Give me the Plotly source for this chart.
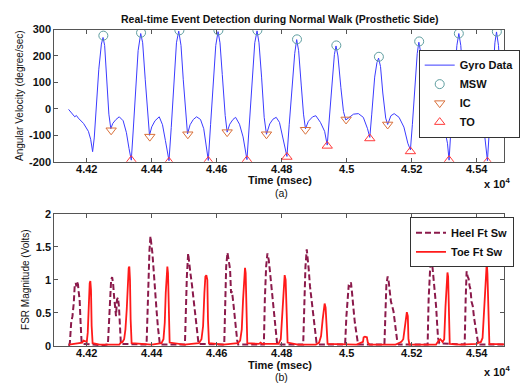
import plotly.graph_objects as go

# ---------------- data ----------------
gyro_t = [4.4144, 4.4150, 4.4157, 4.4163, 4.4168, 4.4174, 4.4190, 4.4205, 4.4212, 4.4218,
          4.4223, 4.4229, 4.4237, 4.4245, 4.4250, 4.4255, 4.4262, 4.4268, 4.4274, 4.4280,
          4.4290, 4.4300, 4.4312, 4.4322, 4.4330, 4.4337, 4.4343, 4.4350, 4.4358, 4.4366,
          4.4372, 4.4380, 4.4388, 4.4393, 4.4400, 4.4410, 4.4423, 4.4433, 4.4442, 4.4453,
          4.4460, 4.4468, 4.4476, 4.4483, 4.4490, 4.4497, 4.4505, 4.4510, 4.4518, 4.4528,
          4.4538, 4.4550, 4.4560, 4.4567, 4.4574, 4.4581, 4.4590, 4.4597, 4.4604, 4.4610,
          4.4617, 4.4626, 4.4632, 4.4640, 4.4650, 4.4658, 4.4670, 4.4681, 4.4693, 4.4700,
          4.4708, 4.4717, 4.4724, 4.4730, 4.4738, 4.4746, 4.4753, 4.4763, 4.4773, 4.4783,
          4.4793, 4.4803, 4.4816, 4.4823, 4.4832, 4.4840, 4.4846, 4.4852, 4.4860, 4.4867,
          4.4873, 4.4882, 4.4895, 4.4905, 4.4919, 4.4932, 4.4940, 4.4946, 4.4955, 4.4962,
          4.4967, 4.4973, 4.4982, 4.4990, 4.4997, 4.5007, 4.5021, 4.5036, 4.5051, 4.5064,
          4.5071, 4.5077, 4.5086, 4.5093, 4.5098, 4.5104, 4.5111, 4.5120, 4.5126, 4.5136,
          4.5146, 4.5161, 4.5176, 4.5188, 4.5196, 4.5202, 4.5210, 4.5217, 4.5222, 4.5228,
          4.5236, 4.5244, 4.5250, 4.5260, 4.5270, 4.5285, 4.5300, 4.5310, 4.5315, 4.5321,
          4.5330, 4.5339, 4.5345, 4.5351, 4.5359, 4.5366, 4.5372, 4.5380, 4.5390, 4.5400,
          4.5413, 4.5425, 4.5433, 4.5439, 4.5448, 4.5456, 4.5461, 4.5467, 4.5475, 4.5482,
          4.5487, 4.5494]
gyro_v = [-2, -12, -20, -30, -25, -35, -55, -85, -115, -162,
          -110, 20, 150, 245, 270, 240, 110, -20, -75, -55,
          -40, -30, -45, -90, -150, -194, -80, 80, 220, 285,
          250, 110, -30, -100, -68, -45, -30, -60, -120, -196,
          -70, 110, 250, 294, 240, 110, -35, -95, -60, -40,
          -30, -40, -75, -130, -195, -60, 110, 240, 292, 250,
          130, -25, -88, -58, -40, -32, -58, -106, -192, -60,
          100, 250, 295, 250, 120, -32, -96, -57, -39, -32,
          -51, -106, -180, -60, 90, 210, 262, 220, 90, -20,
          -75, -47, -30, -26, -51, -85, -137, -40, 120, 205,
          238, 200, 80, -10, -42, -32, -20, -18, -32, -75,
          -108, -20, 120, 175, 192, 160, 60, -35, -59, -26,
          -18, -32, -69, -130, -155, -60, 90, 210, 252, 210,
          80, -15, -39, -32, -26, -39, -69, -130, -194, -70,
          100, 240, 285, 240, 100, -40, -88, -57, -32, -26,
          -45, -106, -196, -70, 100, 250, 291, 240, 90, -10,
          -35, -20]

msw_t = [4.4251, 4.4367, 4.4485, 4.4605, 4.4725, 4.4847, 4.4968, 4.5099, 4.5223, 4.5345, 4.5462]
msw_v = [277, 288, 297, 297, 297, 263, 240, 197, 255, 285, 292]
ic_t = [4.4275, 4.4394, 4.4511, 4.4632, 4.4753, 4.4873, 4.4998, 4.5126, 4.5250, 4.5372, 4.5487]
ic_v = [-81, -105, -96, -88, -96, -79, -40, -59, -39, -90, -33]
to_t = [4.4337, 4.4453, 4.4574, 4.4693, 4.4816, 4.4940, 4.5071, 4.5196, 4.5315, 4.5433]
to_v = [-194, -200, -197, -194, -182, -140, -112, -161, -194, -200]

heel_t = [4.4145, 4.4148, 4.4152, 4.4156, 4.4160, 4.4163, 4.4166, 4.4168, 4.4170, 4.4173,
          4.4175, 4.4178, 4.4181, 4.4184, 4.4188, 4.4250, 4.4265, 4.4269, 4.4272, 4.4275,
          4.4278, 4.4281, 4.4284, 4.4287, 4.4290, 4.4293, 4.4296, 4.4299, 4.4302, 4.4305,
          4.4384, 4.4387, 4.4390, 4.4393, 4.4396, 4.4399, 4.4402, 4.4405, 4.4408, 4.4412,
          4.4415, 4.4419, 4.4422, 4.4425, 4.4502, 4.4505, 4.4508, 4.4512, 4.4515, 4.4519,
          4.4524, 4.4529, 4.4534, 4.4539, 4.4544, 4.4623, 4.4626, 4.4629, 4.4633, 4.4637,
          4.4641, 4.4644, 4.4647, 4.4651, 4.4655, 4.4659, 4.4663, 4.4666, 4.4745, 4.4748,
          4.4752, 4.4756, 4.4760, 4.4763, 4.4767, 4.4770, 4.4774, 4.4778, 4.4782, 4.4786,
          4.4866, 4.4869, 4.4873, 4.4877, 4.4880, 4.4883, 4.4887, 4.4891, 4.4895, 4.4899,
          4.4903, 4.4907, 4.4912, 4.4995, 4.4999, 4.5002, 4.5006, 4.5010, 4.5013, 4.5016,
          4.5019, 4.5022, 4.5025, 4.5028, 4.5032, 4.5035, 4.5116, 4.5119, 4.5122, 4.5126,
          4.5129, 4.5133, 4.5136, 4.5140, 4.5144, 4.5147, 4.5150, 4.5153, 4.5156, 4.5160,
          4.5249, 4.5252, 4.5255, 4.5258, 4.5260, 4.5263, 4.5266, 4.5269, 4.5272, 4.5275,
          4.5278, 4.5281, 4.5285, 4.5363, 4.5366, 4.5369, 4.5372, 4.5375, 4.5378, 4.5381,
          4.5384, 4.5388, 4.5392, 4.5396, 4.5399, 4.5402, 4.5405, 4.5500]
heel_v = [0.00, 0.05, 0.35, 0.45, 0.65, 0.92, 0.95, 0.90, 0.97, 0.93,
          0.82, 0.70, 0.35, 0.06, 0.03, 0.01, 0.02, 0.40, 0.85, 1.00,
          1.04, 0.95, 0.75, 0.60, 0.45, 0.70, 0.73, 0.60, 0.20, 0.03,
          0.02, 0.50, 1.20, 1.45, 1.66, 1.55, 1.40, 1.20, 0.96, 0.75,
          0.52, 0.28, 0.08, 0.02, 0.02, 0.60, 1.05, 1.40, 1.30, 1.10,
          0.91, 0.70, 0.52, 0.25, 0.03, 0.02, 0.70, 1.20, 1.41, 1.30,
          1.16, 0.80, 0.82, 0.65, 0.45, 0.28, 0.08, 0.02, 0.02, 0.70,
          1.20, 1.40, 1.30, 1.16, 0.95, 0.82, 0.55, 0.33, 0.12, 0.02,
          0.02, 0.70, 1.20, 1.46, 1.35, 1.16, 0.90, 0.72, 0.55, 0.38,
          0.20, 0.05, 0.02, 0.02, 0.45, 0.70, 0.91, 0.90, 0.96, 0.82,
          0.70, 0.50, 0.35, 0.23, 0.06, 0.02, 0.02, 0.60, 0.92, 1.05,
          0.98, 0.80, 0.67, 0.60, 0.52, 0.40, 0.28, 0.15, 0.05, 0.02,
          0.02, 0.70, 1.11, 1.30, 1.40, 1.25, 1.16, 0.90, 0.75, 0.60,
          0.35, 0.12, 0.04, 0.02, 0.70, 1.13, 1.05, 1.02, 0.91, 0.85,
          0.67, 0.60, 0.42, 0.30, 0.18, 0.06, 0.02, 0.02]

toe_t = [4.4145, 4.4186, 4.4190, 4.4195, 4.4200, 4.4203, 4.4206, 4.4209, 4.4211, 4.4213,
         4.4215, 4.4218, 4.4240, 4.4300, 4.4305, 4.4310, 4.4315, 4.4319, 4.4323, 4.4326,
         4.4329, 4.4331, 4.4333, 4.4335, 4.4338, 4.4400, 4.4420, 4.4430, 4.4436, 4.4440,
         4.4443, 4.4446, 4.4448, 4.4450, 4.4452, 4.4455, 4.4500, 4.4545, 4.4553, 4.4558,
         4.4562, 4.4565, 4.4568, 4.4571, 4.4573, 4.4576, 4.4620, 4.4665, 4.4672, 4.4677,
         4.4681, 4.4684, 4.4687, 4.4689, 4.4691, 4.4694, 4.4730, 4.4735, 4.4740, 4.4790,
         4.4797, 4.4802, 4.4806, 4.4809, 4.4812, 4.4815, 4.4818, 4.4850, 4.4905, 4.4915,
         4.4921, 4.4926, 4.4930, 4.4932, 4.4935, 4.4938, 4.4941, 4.5030, 4.5040, 4.5050,
         4.5052, 4.5056, 4.5062, 4.5065, 4.5070, 4.5150, 4.5160, 4.5168, 4.5174, 4.5178,
         4.5182, 4.5185, 4.5188, 4.5190, 4.5193, 4.5275, 4.5283, 4.5288, 4.5295, 4.5300,
         4.5304, 4.5307, 4.5310, 4.5312, 4.5314, 4.5317, 4.5350, 4.5400, 4.5407, 4.5413,
         4.5418, 4.5422, 4.5426, 4.5429, 4.5431, 4.5433, 4.5436, 4.5439, 4.5500]
toe_v = [0.02, 0.05, 0.08, 0.07, 0.06, 0.20, 0.70, 0.95, 0.98, 0.85,
         0.30, 0.04, 0.02, 0.02, 0.05, 0.06, 0.10, 0.25, 0.55, 0.95,
         1.18, 1.20, 1.00, 0.40, 0.04, 0.02, 0.03, 0.04, 0.10, 0.35,
         0.80, 1.12, 1.20, 1.10, 0.60, 0.05, 0.02, 0.04, 0.10, 0.30,
         0.80, 1.05, 1.07, 1.00, 0.40, 0.04, 0.02, 0.04, 0.08, 0.25,
         0.70, 1.05, 1.18, 1.10, 0.50, 0.04, 0.03, 0.05, 0.03, 0.03,
         0.10, 0.50, 0.95, 1.07, 1.00, 0.50, 0.05, 0.02, 0.02, 0.05,
         0.15, 0.40, 0.60, 0.64, 0.58, 0.20, 0.03, 0.02, 0.04, 0.06,
         0.13, 0.14, 0.13, 0.05, 0.02, 0.02, 0.04, 0.06, 0.10, 0.25,
         0.45, 0.51, 0.45, 0.10, 0.02, 0.02, 0.08, 0.10, 0.06, 0.10,
         0.60, 1.00, 1.11, 1.05, 0.40, 0.03, 0.02, 0.03, 0.05, 0.06,
         0.12, 0.50, 1.00, 1.22, 1.26, 1.10, 0.40, 0.03, 0.02]

x_tickvals = [4.42, 4.44, 4.46, 4.48, 4.50, 4.52, 4.54]
x_ticktext = ["4.42", "4.44", "4.46", "4.48", "4.5", "4.52", "4.54"]
gyro_yticks = [-200, -100, 0, 100, 200, 300]
gyro_yticktext = ["-200", "-100", "0", "100", "200", "300"]
fsr_yticks = [0, 0.5, 1, 1.5, 2]
fsr_yticktext = ["0", "0.5", "1", "1.5", "2"]

# ---------------- layout helpers ----------------
W, H = 520, 389
def px(x):
    return x / W
def py(y):
    return 1 - y / H

FONT = "Liberation Sans, Arial, sans-serif"
AXC = "#555555"

fig = go.Figure()

fig.add_trace(go.Scatter(x=gyro_t, y=gyro_v, mode="lines", name="Gyro Data",
                         line=dict(color="#3b3bff", width=1), xaxis="x", yaxis="y",
                         legend="legend"))
fig.add_trace(go.Scatter(x=msw_t, y=msw_v, mode="markers", name="MSW",
                         marker=dict(symbol="circle-open", size=9, color="#5f9ea0",
                                     line=dict(width=1)), xaxis="x", yaxis="y",
                         legend="legend"))
fig.add_trace(go.Scatter(x=ic_t, y=ic_v, mode="markers", name="IC",
                         marker=dict(symbol="triangle-down-open", size=9, color="#d9703a",
                                     line=dict(width=1)), xaxis="x", yaxis="y",
                         legend="legend"))
fig.add_trace(go.Scatter(x=to_t, y=to_v, mode="markers", name="TO",
                         marker=dict(symbol="triangle-up-open", size=9, color="#ff3b3b",
                                     line=dict(width=1)), xaxis="x", yaxis="y",
                         legend="legend"))

fig.add_trace(go.Scatter(x=heel_t, y=heel_v, mode="lines", name="Heel Ft Sw",
                         line=dict(color="#8b1a4b", width=2, dash="6px,3px"),
                         xaxis="x2", yaxis="y2", legend="legend2"))
fig.add_trace(go.Scatter(x=toe_t, y=toe_v, mode="lines", name="Toe Ft Sw",
                         line=dict(color="#ff1a1a", width=1.8),
                         xaxis="x2", yaxis="y2", legend="legend2"))

xrange = [4.4100, 4.5484]
common_x = dict(range=xrange, tickvals=x_tickvals, ticktext=x_ticktext,
                ticks="inside", ticklen=4, tickcolor=AXC, showline=True, linecolor=AXC,
                linewidth=1, mirror="ticks", showgrid=False, zeroline=False,
                ticklabelstandoff=-3,
                tickfont=dict(family=FONT, size=11, color="#111", weight="bold"),
                domain=[px(56), 1])
common_y = dict(ticks="inside", ticklen=4, tickcolor=AXC, showline=True, linecolor=AXC,
                linewidth=1, mirror="ticks", showgrid=False, zeroline=False,
                tickfont=dict(family=FONT, size=11, color="#111", weight="bold"))

fig.update_layout(
    width=W, height=H,
    margin=dict(l=0, r=0, t=0, b=0),
    paper_bgcolor="white", plot_bgcolor="white",
    xaxis=dict(anchor="y", **common_x),
    yaxis=dict(anchor="x", range=[-200, 300], tickvals=gyro_yticks,
               ticktext=gyro_yticktext, domain=[py(160.7), py(24.3)], **common_y),
    xaxis2=dict(anchor="y2", **common_x),
    yaxis2=dict(anchor="x2", range=[0, 2], tickvals=fsr_yticks,
                ticktext=fsr_yticktext, domain=[py(350.7), py(214.3)], **common_y),
    legend=dict(x=px(432), y=py(45), xanchor="left", yanchor="top",
                bgcolor="white", bordercolor="#333", borderwidth=1, itemwidth=30,
                font=dict(family=FONT, size=11, color="#111", weight="bold"),
                tracegroupgap=0),
    legend2=dict(x=px(423), y=py(218), xanchor="left", yanchor="top",
                 bgcolor="white", bordercolor="#333", borderwidth=1, itemwidth=30,
                 font=dict(family=FONT, size=11, color="#111", weight="bold")),
    showlegend=True,
)

ann = []
def A(text, x, y, size=11, bold=True, angle=0, xanchor="center", yanchor="middle"):
    ann.append(dict(text=text, x=px(x), y=py(y), xref="paper", yref="paper",
                    showarrow=False, textangle=angle, xanchor=xanchor, yanchor=yanchor,
                    font=dict(family=FONT, size=size, color="#111",
                              weight="bold" if bold else "normal")))

A("Real-time Event Detection during Normal Walk (Prosthetic Side)", 289, 13, size=10.5)
A("Time (msec)", 289, 180, size=11)
A("(a)", 290, 193, size=10.5, bold=False)
A("Time (msec)", 289, 370, size=11)
A("(b)", 290, 383, size=10.5, bold=False)
A("x 10<sup>4</sup>", 497, 183, size=11, xanchor="left")
A("x 10<sup>4</sup>", 497, 377, size=11, xanchor="left")
A("Angular Velocity (degree/sec)", 20, 92.5, size=10, bold=False, angle=-90)
A("FSR Magnitude (Volts)", 27, 282.5, size=10, bold=False, angle=-90)
fig.update_layout(annotations=ann)

fig.write_html("out.html", config={"displayModeBar": False},
               post_script="document.body.style.margin='0px';document.body.style.overflow='hidden';")
